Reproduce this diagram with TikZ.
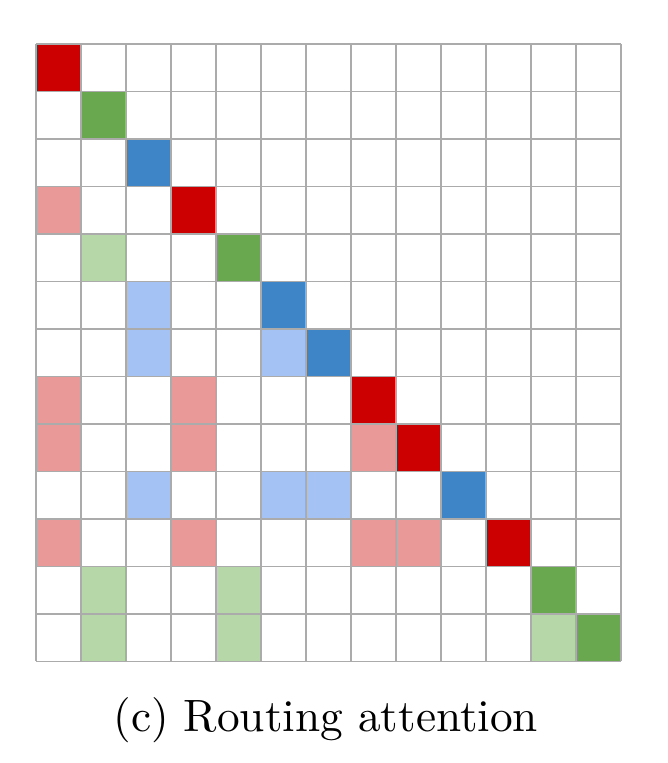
\documentclass[tikz,border=0pt]{standalone}
\usepackage{tikz}
\usepackage{fontspec}
\colorlet{gridcol}{black!33}
\definecolor{Rcol}{HTML}{CC0000}
\definecolor{Gcol}{HTML}{6AA84F}
\definecolor{Bcol}{HTML}{3D85C6}
\definecolor{Rlight}{HTML}{EA9999}
\definecolor{Glight}{HTML}{B6D7A8}
\definecolor{Blight}{HTML}{A4C2F4}
\def\nblk{13}

\begin{document}
\begin{tikzpicture}[x=45pt, y=-47.5pt]
  \useasboundingbox (-0.8,-0.926) rectangle (14.022,15.137);

  % query = row, key = column
  \foreach \r/\c/\col in {0/0/Rcol, 1/1/Gcol, 2/2/Bcol, 3/3/Rcol, 4/4/Gcol,
      5/5/Bcol, 6/6/Bcol, 7/7/Rcol, 8/8/Rcol, 9/9/Bcol, 10/10/Rcol,
      11/11/Gcol, 12/12/Gcol,
      3/0/Rlight, 4/1/Glight, 5/2/Blight, 6/2/Blight, 6/5/Blight,
      7/0/Rlight, 7/3/Rlight, 8/0/Rlight, 8/3/Rlight, 8/7/Rlight,
      9/2/Blight, 9/5/Blight, 9/6/Blight,
      10/0/Rlight, 10/3/Rlight, 10/7/Rlight, 10/8/Rlight,
      11/1/Glight, 11/4/Glight, 12/1/Glight, 12/4/Glight, 12/11/Glight}
    \fill[\col] (\c,\r) rectangle ++(1,1);

  \foreach \i in {0,...,\nblk} {
    \draw[line width=1.4pt, gridcol] (\i,0) -- (\i,\nblk);
    \draw[line width=1.4pt, gridcol] (0,\i) -- (\nblk,\i);
  }

  \node[anchor=base, inner sep=0pt, scale=4.53]
    (caption) at (6.44,14.484) {(c) Routing attention};
\end{tikzpicture}
\end{document}
